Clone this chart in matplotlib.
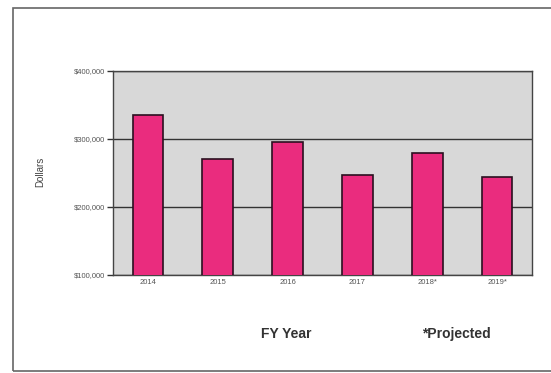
import matplotlib.pyplot as plt
from matplotlib.patches import Rectangle

plt.rcParams['font.family'] = ['Liberation Sans', 'DejaVu Sans']

years = ["2014", "2015", "2016", "2017", "2018*", "2019*"]
dollars = [335000, 271000, 296000, 247000, 279000, 244000]
yticks = [100000, 200000, 300000, 400000]

fig = plt.figure(figsize=(5.51, 3.73), dpi=100)
fig.patches.append(Rectangle((13 / 551, 1 - 371 / 373), 0.99, (371 - 8) / 373,
                             transform=fig.transFigure, fill=False,
                             edgecolor="#666666", linewidth=1.2))

ax = fig.add_axes([113 / 551, 1 - 275 / 373, (532 - 113) / 551, (275 - 71) / 373])
ax.set_facecolor("#d8d8d8")
x = range(len(years))
ax.bar(x, dollars, width=0.44, color="#ea2c7e", edgecolor="#2a1020", linewidth=1.2, zorder=3)
ax.set_xlim(-0.5, len(years) - 0.5)
ax.set_ylim(100000, 400000)
ax.set_yticks(yticks)
ax.set_yticklabels(["${:,}".format(v) for v in yticks], fontsize=5.5, color="#555555")
ax.set_xticks(list(x))
ax.set_xticklabels(years, fontsize=5.5, color="#555555")
ax.yaxis.grid(True, color="#333333", linewidth=1.0, zorder=1)
ax.tick_params(axis="x", length=0, pad=3)
ax.tick_params(axis="y", length=4, width=1, color="#333333", pad=2)
for s in ax.spines.values():
    s.set_color("#444444")
    s.set_linewidth(1.0)

fig.text(40 / 551, 1 - 172 / 373, "Dollars", rotation=90, fontsize=7,
         color="#444444", ha="center", va="center")
fig.text(286 / 551, 1 - 334 / 373, "FY Year", fontsize=10, fontweight="bold",
         color="#333333", ha="center", va="center")
fig.text(456 / 551, 1 - 334 / 373, "*Projected", fontsize=10, fontweight="bold",
         color="#333333", ha="center", va="center")

fig.savefig("out.png", dpi=100)
